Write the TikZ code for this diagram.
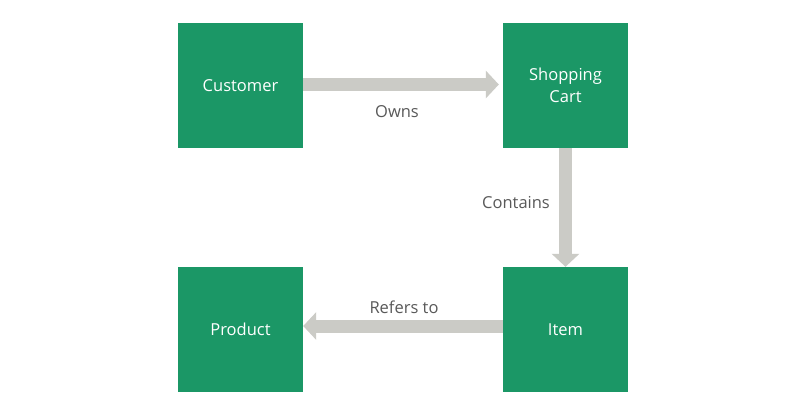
\documentclass[tikz,border=0pt]{standalone}
\usepackage{fontspec}
\setmainfont{Open Sans}
\usetikzlibrary{arrows.meta}
\definecolor{boxgreen}{HTML}{1B9766}
\definecolor{arrowgray}{HTML}{CBCBC6}
\definecolor{labelgray}{HTML}{595959}
\begin{document}
\begin{tikzpicture}[x=1pt,y=-1pt,
  entity/.style={fill=boxgreen, minimum width=125pt, minimum height=125pt, inner sep=0pt,
    text=white, font=\fontsize{16.5}{21.5}\selectfont, align=center},
  rel/.style={draw=arrowgray, line width=13pt, -{Triangle[width=27pt,length=13pt]}},
  lbl/.style={text=labelgray, font=\fontsize{16.5}{19}\selectfont}]
\useasboundingbox[fill=white] (0,0) rectangle (800,413);
\node[entity] (cust) at (240.5,85.5) {Customer};
\node[entity] (cart) at (565.5,85.5) {Shopping\\Cart};
\node[entity] (prod) at (240.5,329.5) {Product};
\node[entity] (item) at (565.5,329.5) {Item};
\draw[rel, shorten >=4pt] ([yshift=1pt]cust.east) -- ([yshift=1pt]cart.west);
\draw[rel] (cart.south) -- (item.north);
\draw[rel] ([yshift=3.5pt]item.west) -- ([yshift=3.5pt]prod.east);
\node[lbl] (owns) at (397,112) {Owns};
\node[lbl] (cont) at (516,203) {Contains};
\node[lbl] (ref) at (404,307) {Refers to};
\end{tikzpicture}
\end{document}
